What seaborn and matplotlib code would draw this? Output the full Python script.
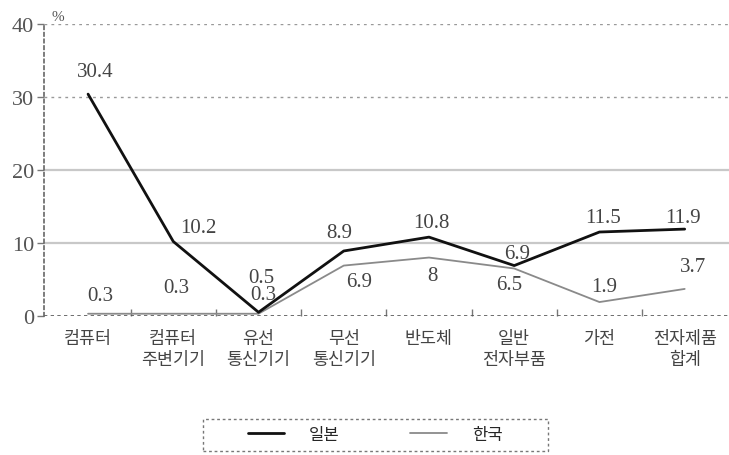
import pandas as pd
import matplotlib.pyplot as plt
import seaborn as sns
from matplotlib.patches import Rectangle

# data
categories = ['컴퓨터', '컴퓨터\n주변기기', '유선\n통신기기', '무선\n통신기기',
              '반도체', '일반\n전자부품', '가전', '전자제품\n합계']
japan = [30.4, 10.2, 0.5, 8.9, 10.8, 6.9, 11.5, 11.9]
korea = [0.3, 0.3, 0.3, 6.9, 8.0, 6.5, 1.9, 3.7]
japan_labels = ['30.4', '10.2', '0.5', '8.9', '10.8', '6.9', '11.5', '11.9']
korea_labels = ['0.3', '0.3', '0.3', '6.9', '8', '6.5', '1.9', '3.7']
yticks = [0, 10, 20, 30, 40]

# label offsets in pixels (layout only)
japan_off = [(7, 23), (25, 14), (3, 35), (-5, 18), (2, 15), (3, 12), (4, 15), (-2, 12)]
korea_off = [(12, 18), (3, 26), (5, 19), (15, -16), (3, -18), (-5, -16), (5, 16), (8, 22)]

df = pd.DataFrame({'x': range(len(categories)), 'japan': japan, 'korea': korea})

sns.set_style('white')
plt.rcParams['font.family'] = ['Liberation Serif', 'Noto Sans CJK KR']

fig = plt.figure(figsize=(7.29, 4.56), dpi=100)
ax = fig.add_axes([0.06, 0.305, 0.94, 0.64])

# grid lines
for v in yticks:
    if v in (10, 20):
        ax.axhline(v, color='#c8c8c8', lw=1.6, zorder=0)
    elif v == 0:
        ax.axhline(v, color='#555555', lw=1.2, ls=(0, (2, 2)), zorder=1)
    else:
        ax.axhline(v, color='#999999', lw=1.0, ls=(0, (2, 3)), zorder=0)

sns.lineplot(data=df, x='x', y='japan', color='#111111', lw=2.0, label='일본', ax=ax, zorder=3)
sns.lineplot(data=df, x='x', y='korea', color='#8a8a8a', lw=1.3, label='한국', ax=ax, zorder=2)

text_kw = dict(textcoords='offset pixels', ha='center', va='center',
               fontsize=15, color='#444444')
for i, (v, t) in enumerate(zip(japan, japan_labels)):
    ax.annotate(t, (i, v), xytext=japan_off[i], **text_kw)
for i, (v, t) in enumerate(zip(korea, korea_labels)):
    ax.annotate(t, (i, v), xytext=korea_off[i], **text_kw)

ax.set_xlim(-0.52, len(categories) - 0.48)
ax.set_ylim(0, 40)
ax.set_yticks(yticks)
ax.set_yticklabels([str(v) for v in yticks], fontsize=16, color='#555555')
ax.set_xticks(range(len(categories)))
ax.set_xticklabels(categories, fontsize=12.5, color='#444444', linespacing=1.4)
ax.tick_params(axis='x', length=0, pad=11)
ax.tick_params(axis='y', length=5, width=1, color='#777777', direction='out', pad=2, left=True)
ax.set_xticks([i + 0.5 for i in range(len(categories) - 1)], minor=True)
ax.tick_params(axis='x', which='minor', length=5, width=1, color='#777777', direction='in', bottom=True)
ax.set_xlabel('')
ax.set_ylabel('')

for s in ['top', 'right', 'bottom']:
    ax.spines[s].set_visible(False)
ax.spines['left'].set_linestyle((0, (2, 2)))
ax.spines['left'].set_color('#666666')
ax.spines['left'].set_linewidth(1.2)

ax.text(0.02, 1.005, '%', transform=ax.transAxes, fontsize=11, color='#555555',
        ha='center', va='bottom')

# legend
handles, labels = ax.get_legend_handles_labels()
ax.get_legend().remove()
fig.legend(handles, labels, loc='center', bbox_to_anchor=(375 / 729, 1 - 436 / 456),
           ncol=2, frameon=False, fontsize=12, handlelength=2.2, handletextpad=1.5,
           columnspacing=4.2)
fig.patches.append(Rectangle((203 / 729, 4 / 456), 345 / 729, 32 / 456,
                             transform=fig.transFigure, fill=False,
                             ec='#777777', lw=1.0, ls=(0, (2, 2))))

plt.savefig('out.png', dpi=100)
